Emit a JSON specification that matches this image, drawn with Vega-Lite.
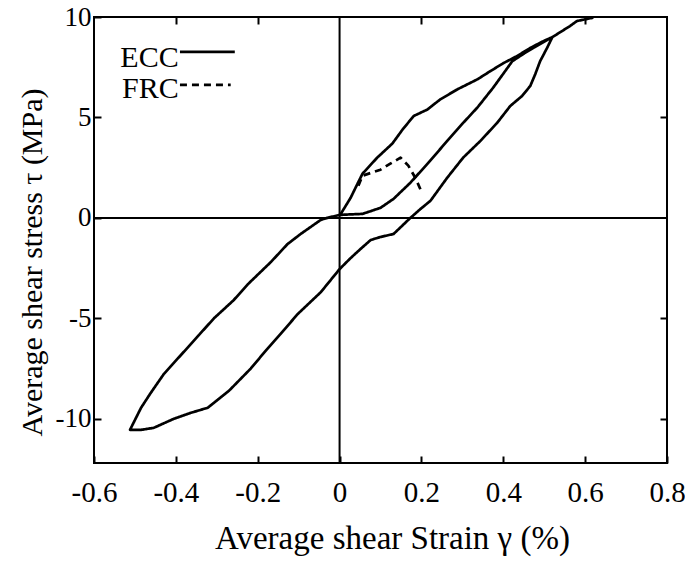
{
  "$schema": "https://vega.github.io/schema/vega-lite/v6.json",
  "width": 573,
  "height": 446,
  "autosize": "none",
  "padding": {"left": 94, "top": 17, "right": 18, "bottom": 100},
  "background": "white",
  "config": {
    "view": {"stroke": "black", "strokeWidth": 2},
    "font": "Liberation Serif",
    "axis": {"grid": false, "domain": false, "tickColor": "black", "tickWidth": 2, "labelColor": "black", "titleColor": "black", "labelFont": "Liberation Serif", "titleFont": "Liberation Serif", "titleFontWeight": "normal", "labelFlush": false, "labelOverlap": false}
  },
  "datasets": {
    "curves": [
      {"s": "ECC", "seg": 1, "o": 1, "x": 0, "y": 0.1},
      {"s": "ECC", "seg": 1, "o": 2, "x": 0.027, "y": 1.0},
      {"s": "ECC", "seg": 1, "o": 3, "x": 0.039, "y": 1.5},
      {"s": "ECC", "seg": 1, "o": 4, "x": 0.056, "y": 2.2},
      {"s": "ECC", "seg": 1, "o": 5, "x": 0.092, "y": 3.0},
      {"s": "ECC", "seg": 1, "o": 6, "x": 0.129, "y": 3.7},
      {"s": "ECC", "seg": 1, "o": 7, "x": 0.154, "y": 4.4},
      {"s": "ECC", "seg": 1, "o": 8, "x": 0.181, "y": 5.07},
      {"s": "ECC", "seg": 1, "o": 9, "x": 0.215, "y": 5.4},
      {"s": "ECC", "seg": 1, "o": 10, "x": 0.246, "y": 5.9},
      {"s": "ECC", "seg": 1, "o": 11, "x": 0.288, "y": 6.4},
      {"s": "ECC", "seg": 1, "o": 12, "x": 0.337, "y": 6.9},
      {"s": "ECC", "seg": 1, "o": 13, "x": 0.368, "y": 7.3},
      {"s": "ECC", "seg": 1, "o": 14, "x": 0.4, "y": 7.7},
      {"s": "ECC", "seg": 1, "o": 15, "x": 0.434, "y": 8.06},
      {"s": "ECC", "seg": 1, "o": 16, "x": 0.466, "y": 8.46},
      {"s": "ECC", "seg": 1, "o": 17, "x": 0.498, "y": 8.8},
      {"s": "ECC", "seg": 1, "o": 18, "x": 0.52, "y": 9.0},
      {"s": "ECC", "seg": 1, "o": 19, "x": 0.507, "y": 8.46},
      {"s": "ECC", "seg": 1, "o": 20, "x": 0.49, "y": 7.8},
      {"s": "ECC", "seg": 1, "o": 21, "x": 0.478, "y": 7.15},
      {"s": "ECC", "seg": 1, "o": 22, "x": 0.466, "y": 6.57},
      {"s": "ECC", "seg": 1, "o": 23, "x": 0.446, "y": 6.07},
      {"s": "ECC", "seg": 1, "o": 24, "x": 0.417, "y": 5.57},
      {"s": "ECC", "seg": 1, "o": 25, "x": 0.385, "y": 4.73},
      {"s": "ECC", "seg": 1, "o": 26, "x": 0.344, "y": 3.83},
      {"s": "ECC", "seg": 1, "o": 27, "x": 0.302, "y": 3.0},
      {"s": "ECC", "seg": 1, "o": 28, "x": 0.263, "y": 2.0},
      {"s": "ECC", "seg": 1, "o": 29, "x": 0.222, "y": 0.85},
      {"s": "ECC", "seg": 1, "o": 30, "x": 0.198, "y": 0.45},
      {"s": "ECC", "seg": 1, "o": 31, "x": 0.173, "y": 0.0},
      {"s": "ECC", "seg": 1, "o": 32, "x": 0.132, "y": -0.8},
      {"s": "ECC", "seg": 1, "o": 33, "x": 0.1, "y": -0.95},
      {"s": "ECC", "seg": 1, "o": 34, "x": 0.076, "y": -1.1},
      {"s": "ECC", "seg": 1, "o": 35, "x": 0.051, "y": -1.55},
      {"s": "ECC", "seg": 1, "o": 36, "x": 0.027, "y": -2.0},
      {"s": "ECC", "seg": 1, "o": 37, "x": 0.0, "y": -2.55},
      {"s": "ECC", "seg": 1, "o": 38, "x": -0.046, "y": -3.7},
      {"s": "ECC", "seg": 1, "o": 39, "x": -0.102, "y": -4.78},
      {"s": "ECC", "seg": 1, "o": 40, "x": -0.144, "y": -5.77},
      {"s": "ECC", "seg": 1, "o": 41, "x": -0.18, "y": -6.6},
      {"s": "ECC", "seg": 1, "o": 42, "x": -0.217, "y": -7.5},
      {"s": "ECC", "seg": 1, "o": 43, "x": -0.27, "y": -8.6},
      {"s": "ECC", "seg": 1, "o": 44, "x": -0.322, "y": -9.45},
      {"s": "ECC", "seg": 1, "o": 45, "x": -0.363, "y": -9.7},
      {"s": "ECC", "seg": 1, "o": 46, "x": -0.405, "y": -10.0},
      {"s": "ECC", "seg": 1, "o": 47, "x": -0.454, "y": -10.45},
      {"s": "ECC", "seg": 1, "o": 48, "x": -0.485, "y": -10.55},
      {"s": "ECC", "seg": 1, "o": 49, "x": -0.512, "y": -10.55},
      {"s": "ECC", "seg": 1, "o": 50, "x": -0.485, "y": -9.45},
      {"s": "ECC", "seg": 1, "o": 51, "x": -0.461, "y": -8.7},
      {"s": "ECC", "seg": 1, "o": 52, "x": -0.429, "y": -7.76},
      {"s": "ECC", "seg": 1, "o": 53, "x": -0.363, "y": -6.27},
      {"s": "ECC", "seg": 1, "o": 54, "x": -0.307, "y": -5.0},
      {"s": "ECC", "seg": 1, "o": 55, "x": -0.259, "y": -4.1},
      {"s": "ECC", "seg": 1, "o": 56, "x": -0.224, "y": -3.3},
      {"s": "ECC", "seg": 1, "o": 57, "x": -0.168, "y": -2.2},
      {"s": "ECC", "seg": 1, "o": 58, "x": -0.127, "y": -1.3},
      {"s": "ECC", "seg": 1, "o": 59, "x": -0.095, "y": -0.8},
      {"s": "ECC", "seg": 1, "o": 60, "x": -0.046, "y": -0.1},
      {"s": "ECC", "seg": 1, "o": 61, "x": -0.03, "y": 0.0},
      {"s": "ECC", "seg": 1, "o": 62, "x": 0.0, "y": 0.15},
      {"s": "ECC", "seg": 1, "o": 63, "x": 0.056, "y": 0.2},
      {"s": "ECC", "seg": 1, "o": 64, "x": 0.1, "y": 0.5},
      {"s": "ECC", "seg": 1, "o": 65, "x": 0.132, "y": 0.95},
      {"s": "ECC", "seg": 1, "o": 66, "x": 0.173, "y": 1.75},
      {"s": "ECC", "seg": 1, "o": 67, "x": 0.215, "y": 2.7},
      {"s": "ECC", "seg": 1, "o": 68, "x": 0.263, "y": 3.83},
      {"s": "ECC", "seg": 1, "o": 69, "x": 0.302, "y": 4.73},
      {"s": "ECC", "seg": 1, "o": 70, "x": 0.337, "y": 5.5},
      {"s": "ECC", "seg": 1, "o": 71, "x": 0.376, "y": 6.5},
      {"s": "ECC", "seg": 1, "o": 72, "x": 0.41, "y": 7.46},
      {"s": "ECC", "seg": 1, "o": 73, "x": 0.422, "y": 7.8},
      {"s": "ECC", "seg": 1, "o": 74, "x": 0.449, "y": 8.16},
      {"s": "ECC", "seg": 1, "o": 75, "x": 0.473, "y": 8.46},
      {"s": "ECC", "seg": 1, "o": 76, "x": 0.52, "y": 9.0},
      {"s": "ECC", "seg": 1, "o": 77, "x": 0.563, "y": 9.55},
      {"s": "ECC", "seg": 1, "o": 78, "x": 0.58, "y": 9.8},
      {"s": "ECC", "seg": 1, "o": 79, "x": 0.62, "y": 9.97},
      {"s": "FRC", "seg": 2, "o": 1, "x": 0.046, "y": 1.6},
      {"s": "FRC", "seg": 2, "o": 2, "x": 0.056, "y": 2.1},
      {"s": "FRC", "seg": 2, "o": 3, "x": 0.1, "y": 2.4},
      {"s": "FRC", "seg": 2, "o": 4, "x": 0.124, "y": 2.7},
      {"s": "FRC", "seg": 2, "o": 5, "x": 0.149, "y": 3.0},
      {"s": "FRC", "seg": 2, "o": 6, "x": 0.168, "y": 2.6},
      {"s": "FRC", "seg": 2, "o": 7, "x": 0.185, "y": 2.0},
      {"s": "FRC", "seg": 2, "o": 8, "x": 0.198, "y": 1.4},
      {"s": "ECC", "seg": 3, "o": 1, "x": -0.39, "y": 8.26},
      {"s": "ECC", "seg": 3, "o": 2, "x": -0.256, "y": 8.26},
      {"s": "FRC", "seg": 4, "o": 1, "x": -0.39, "y": 6.62},
      {"s": "FRC", "seg": 4, "o": 2, "x": -0.266, "y": 6.62}
    ],
    "legend": [
      {"label": "ECC", "x": -0.393, "y": 7.95},
      {"label": "FRC", "x": -0.393, "y": 6.4}
    ],
    "zero": [{"v": 0}]
  },
  "layer": [
    {
      "data": {"name": "zero"},
      "mark": {"type": "rule", "color": "black", "strokeWidth": 2},
      "encoding": {
        "x": {"field": "v", "type": "quantitative", "scale": {"domain": [-0.6, 0.8], "nice": false, "zero": false},
          "axis": {"orient": "bottom", "values": [-0.6, -0.4, -0.2, 0, 0.2, 0.4, 0.6, 0.8], "tickSize": -7, "labelPadding": 22, "labelFontSize": 29,
            "labelExpr": "datum.value == 0 ? '0' : (datum.value < 0 ? '-' + format(-datum.value, '.1f') : format(datum.value, '.1f'))",
            "title": "Average shear Strain γ (%)", "titleFontSize": 33, "titlePadding": 15, "titleX": 298}}
      }
    },
    {
      "data": {"name": "zero"},
      "mark": {"type": "rule", "color": "black", "strokeWidth": 2},
      "encoding": {
        "y": {"field": "v", "type": "quantitative", "scale": {"domain": [-12.2, 10], "nice": false, "zero": false},
          "axis": {"orient": "left", "values": [-10, -5, 0, 5, 10], "tickSize": -7, "labelPadding": 10, "labelFontSize": 27,
            "labelExpr": "datum.value < 0 ? '-' + format(-datum.value, 'd') : format(datum.value, 'd')",
            "title": "Average shear stress τ (MPa)", "titleFontSize": 30, "titlePadding": 8, "titleY": 245}}
      }
    },
    {
      "data": {"name": "curves"},
      "mark": {"type": "line", "color": "black", "strokeWidth": 2.7, "strokeJoin": "round", "clip": true},
      "encoding": {
        "x": {"field": "x", "type": "quantitative", "axis": {"orient": "top", "values": [-0.4, -0.2, 0.2, 0.4, 0.6], "tickSize": -7, "labels": false, "title": null}},
        "y": {"field": "y", "type": "quantitative", "axis": {"orient": "right", "values": [-10, -5, 5], "tickSize": -7, "labels": false, "title": null}},
        "detail": {"field": "seg", "type": "nominal"},
        "order": {"field": "o", "type": "quantitative"},
        "strokeDash": {"field": "s", "type": "nominal", "scale": {"domain": ["ECC", "FRC"], "range": [[1, 0], [7, 5]]}, "legend": null}
      }
    },
    {
      "data": {"name": "legend"},
      "mark": {"type": "text", "align": "right", "baseline": "middle", "fontSize": 30, "font": "Liberation Serif", "color": "black"},
      "encoding": {
        "x": {"field": "x", "type": "quantitative", "axis": null},
        "y": {"field": "y", "type": "quantitative", "axis": null},
        "text": {"field": "label", "type": "nominal"}
      }
    }
  ],
  "resolve": {"axis": {"x": "independent", "y": "independent"}}
}
